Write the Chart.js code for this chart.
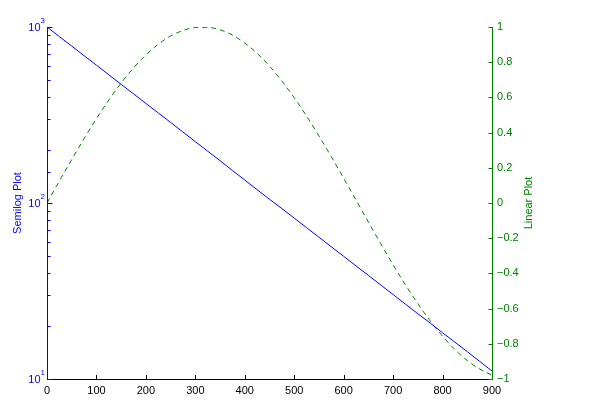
<!DOCTYPE html>
<html>
<head>
<meta charset="utf-8">
<script src="https://cdn.jsdelivr.net/npm/chart.js@4/dist/chart.umd.min.js"></script>
<style>
  html, body { margin: 0; padding: 0; background: #fff; }
  #wrap { width: 600px; height: 411px; }
</style>
</head>
<body>
<div id="wrap"><canvas id="plot" width="600" height="411"></canvas></div>
<script>
// values
const tValues = [0, 25, 50, 75, 100, 125, 150, 175, 200, 225, 250, 275, 300, 325, 350, 375, 400, 425, 450,
  475, 500, 525, 550, 575, 600, 625, 650, 675, 700, 725, 750, 775, 800, 825, 850, 875, 900];
const semilogValues = [1000, 882, 779, 687, 607, 535, 472, 417, 368, 325, 287, 253, 223, 197, 174, 153, 135, 119, 105,
  93, 82.1, 72.4, 63.9, 56.4, 49.8, 43.9, 38.8, 34.2, 30.2, 26.6, 23.5, 20.8, 18.3, 16.2, 14.3, 12.6, 11.1];
const linearValues = [0, 0.125, 0.247, 0.366, 0.479, 0.585, 0.682, 0.768, 0.841, 0.902, 0.949, 0.980, 0.997, 0.998,
  0.984, 0.954, 0.909, 0.850, 0.778, 0.693, 0.598, 0.494, 0.381, 0.263, 0.141, 0.017, -0.108, -0.231, -0.351,
  -0.465, -0.572, -0.670, -0.757, -0.833, -0.895, -0.943, -0.978];
const xTicks = [0, 100, 200, 300, 400, 500, 600, 700, 800, 900];
const leftTitle = 'Semilog Plot';
const rightTitle = 'Linear Plot';

const BLUE = 'rgb(0,0,255)';
const GREEN = 'rgb(0,128,0)';
const FONT = '"Liberation Sans", Arial, Helvetica, sans-serif';

const axesPlugin = {
  id: 'matlabAxes',
  afterDraw(chart) {
    const ctx = chart.ctx;
    const a = chart.chartArea;
    const xs = chart.scales.x, yl = chart.scales.yLog, yr = chart.scales.yLin;
    ctx.save();
    ctx.lineWidth = 1;

    // bottom axis
    ctx.strokeStyle = '#000';
    ctx.beginPath();
    ctx.moveTo(a.left, a.bottom + 0.5); ctx.lineTo(a.right, a.bottom + 0.5);
    xTicks.forEach(v => {
      const px = Math.round(xs.getPixelForValue(v)) + 0.5;
      ctx.moveTo(px, a.bottom); ctx.lineTo(px, a.bottom - 4);
    });
    ctx.stroke();

    // left log axis
    ctx.strokeStyle = BLUE;
    ctx.beginPath();
    const lx = Math.round(a.left) + 0.5;
    ctx.moveTo(lx, a.top); ctx.lineTo(lx, a.bottom + 1);
    yl.ticks.forEach(t => {
      const py = Math.round(yl.getPixelForValue(t.value)) + 0.5;
      const m = Math.log10(t.value);
      const len = Math.abs(m - Math.round(m)) < 1e-9 ? 5 : 3;
      ctx.moveTo(lx, py); ctx.lineTo(lx + len, py);
    });
    ctx.stroke();

    // left labels 10^n
    ctx.fillStyle = BLUE;
    ctx.textBaseline = 'middle';
    [1, 2, 3].forEach(n => {
      const py = yl.getPixelForValue(Math.pow(10, n));
      ctx.font = '8px ' + FONT;
      ctx.textAlign = 'left';
      const sw = ctx.measureText(String(n)).width;
      ctx.fillText(String(n), a.left - 2 - sw, py - 6);
      ctx.font = '11px ' + FONT;
      ctx.textAlign = 'right';
      ctx.fillText('10', a.left - 2 - sw, py + 1);
    });

    // right linear axis
    ctx.strokeStyle = GREEN;
    ctx.beginPath();
    const rx = Math.round(a.right) + 0.5;
    ctx.moveTo(rx, a.top); ctx.lineTo(rx, a.bottom + 1);
    yr.ticks.forEach(t => {
      const py = Math.round(yr.getPixelForValue(t.value)) + 0.5;
      ctx.moveTo(rx, py); ctx.lineTo(rx - 4, py);
    });
    ctx.stroke();

    // axis titles
    ctx.font = '11px ' + FONT;
    ctx.textAlign = 'center';
    ctx.textBaseline = 'middle';
    const cy = (a.top + a.bottom) / 2;
    ctx.fillStyle = BLUE;
    ctx.save(); ctx.translate(18, cy); ctx.rotate(-Math.PI / 2); ctx.fillText(leftTitle, 0, 0); ctx.restore();
    ctx.fillStyle = GREEN;
    ctx.save(); ctx.translate(529, cy); ctx.rotate(-Math.PI / 2); ctx.fillText(rightTitle, 0, 0); ctx.restore();
    ctx.restore();
  }
};

new Chart(document.getElementById('plot'), {
  type: 'line',
  data: {
    datasets: [
      {
        label: leftTitle,
        data: tValues.map((t, i) => ({ x: t, y: semilogValues[i] })),
        yAxisID: 'yLog',
        borderColor: BLUE,
        borderWidth: 1,
        pointRadius: 0,
        fill: false
      },
      {
        label: rightTitle,
        data: tValues.map((t, i) => ({ x: t, y: linearValues[i] })),
        yAxisID: 'yLin',
        borderColor: GREEN,
        borderWidth: 1,
        borderDash: [5, 4],
        pointRadius: 0,
        cubicInterpolationMode: 'monotone',
        fill: false
      }
    ]
  },
  options: {
    responsive: false,
    animation: false,
    layout: { padding: { top: 27, left: 0, right: 0, bottom: 0 } },
    plugins: { legend: { display: false }, tooltip: { enabled: false } },
    scales: {
      x: {
        type: 'linear',
        min: 0, max: 900,
        grid: { display: false, drawTicks: false },
        border: { display: false },
        afterFit(s) { s.height = 32; },
        ticks: {
          stepSize: 100,
          padding: 5,
          color: '#000',
          font: { family: FONT, size: 11 },
          maxRotation: 0
        }
      },
      yLog: {
        type: 'logarithmic',
        position: 'left',
        min: 10, max: 1000,
        grid: { display: false, drawTicks: false },
        border: { display: false },
        afterFit(s) { s.width = 47; },
        ticks: { display: false }
      },
      yLin: {
        type: 'linear',
        position: 'right',
        min: -1, max: 1,
        grid: { display: false, drawTicks: false },
        border: { display: false },
        afterFit(s) { s.width = 108; },
        ticks: {
          stepSize: 0.2,
          padding: 5,
          color: GREEN,
          font: { family: FONT, size: 11 },
          callback(v) {
            const r = Math.round(v * 10) / 10;
            return r < 0 ? '\u2212' + String(-r) : String(r);
          }
        }
      }
    }
  },
  plugins: [axesPlugin]
});
</script>
</body>
</html>
